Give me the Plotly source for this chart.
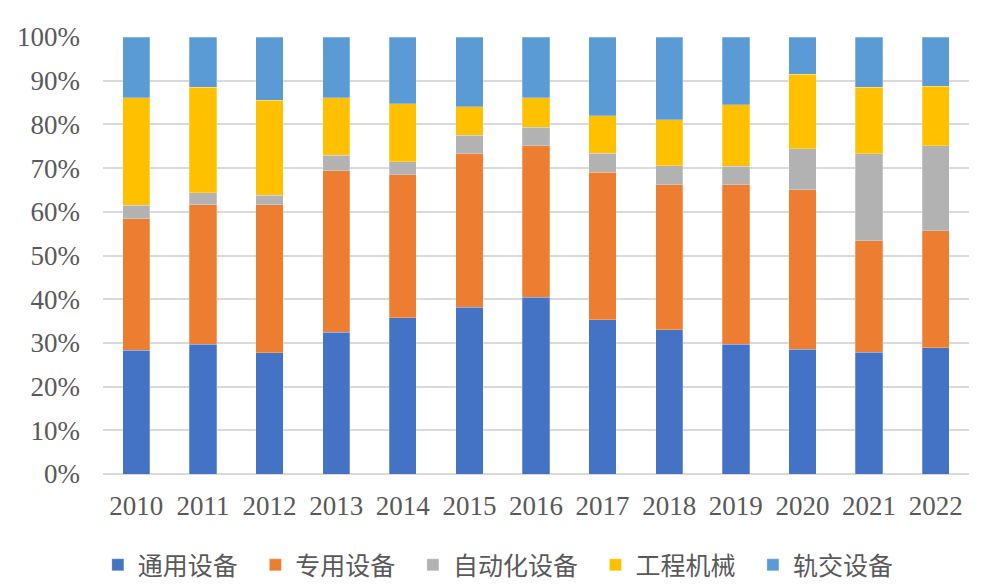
import plotly.graph_objects as go

years = ["2010", "2011", "2012", "2013", "2014", "2015", "2016",
         "2017", "2018", "2019", "2020", "2021", "2022"]

general = [28.3, 29.7, 27.8, 32.4, 35.7, 38.2, 40.4, 35.3, 33.0, 29.7, 28.5, 27.9, 28.9]
special = [30.1, 31.9, 33.8, 37.0, 32.8, 35.1, 34.7, 33.8, 33.2, 36.5, 36.5, 25.5, 26.8]
automation = [3.1, 2.8, 2.2, 3.5, 2.9, 4.2, 4.3, 4.3, 4.3, 4.2, 9.4, 19.9, 19.4]
construction = [24.6, 24.1, 21.7, 13.2, 13.3, 6.5, 6.7, 8.6, 10.6, 14.1, 17.1, 15.2, 13.6]
rail = [13.9, 11.5, 14.5, 13.9, 15.3, 16.0, 13.9, 18.0, 18.9, 15.5, 8.5, 11.5, 11.3]

series_names = ["通用设备", "专用设备", "自动化设备", "工程机械", "轨交设备"]
series_values = [general, special, automation, construction, rail]
colors = ["#4472C4", "#ED7D31", "#B2B2B2", "#FFC000", "#5B9BD5"]

tick_vals = [0, 10, 20, 30, 40, 50, 60, 70, 80, 90, 100]
tick_text = [f"{v}%" for v in tick_vals]

serif = "Liberation Serif, Times New Roman, serif"

fig = go.Figure()
for name, vals, col in zip(series_names, series_values, colors):
    fig.add_trace(go.Bar(
        x=years, y=vals, name=name + "\u2002",
        marker=dict(color=col, line=dict(color="rgba(255,255,255,0.5)", width=0.5)),
    ))

fig.update_layout(
    barmode="stack",
    bargap=0.59,
    width=987, height=588,
    margin=dict(l=103, r=18, t=37, b=114, autoexpand=False),
    paper_bgcolor="white",
    plot_bgcolor="white",
    font=dict(family=serif, size=27, color="#595959"),
    legend=dict(
        orientation="h",
        xref="container", yref="container",
        x=0.511, xanchor="center",
        y=0.039, yanchor="middle",
        font=dict(family="Noto Sans CJK SC", size=25, color="#595959"),
        traceorder="normal",
        itemwidth=30,
    ),
    showlegend=True,
)
fig.update_xaxes(
    type="category",
    showgrid=False,
    showline=False,
    ticks="",
    ticklabelstandoff=13,
    tickfont=dict(family=serif, size=27, color="#595959"),
)
fig.update_yaxes(
    range=[0, 100],
    tickvals=tick_vals,
    ticktext=tick_text,
    showgrid=True,
    gridcolor="#D9D9D9",
    gridwidth=1.5,
    zeroline=True,
    zerolinecolor="#D9D9D9",
    zerolinewidth=1.5,
    showline=False,
    ticks="",
    ticklabelstandoff=22,
    tickfont=dict(family=serif, size=27, color="#595959"),
)

fig.write_html(
    "out.html",
    config={"displayModeBar": False},
    post_script="document.body.style.margin='0px';",
)
